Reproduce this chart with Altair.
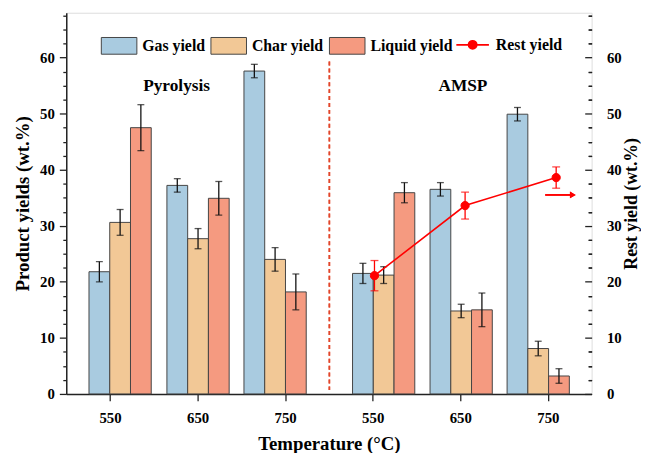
import json
import altair as alt
import pandas as pd

# ---------------- data ----------------
temps = ["550", "650", "750", "550", "650", "750"]
process = ["Pyrolysis", "Pyrolysis", "Pyrolysis", "AMSP", "AMSP", "AMSP"]
tick_pos = [0.5, 1.5, 2.5, 3.5, 4.5, 5.5]
group_pos = [0.615, 1.505, 2.385, 3.625, 4.51, 5.39]
series = ["Gas yield", "Char yield", "Liquid yield"]
colors = ["#a9cbe0", "#f2c896", "#f59a80"]

gas = [21.8, 37.2, 57.6, 21.5, 36.5, 49.9]
gas_err = [1.8, 1.2, 1.2, 1.8, 1.2, 1.2]
char = [30.6, 27.7, 24.0, 21.2, 14.8, 8.1]
char_err = [2.3, 1.8, 2.1, 1.5, 1.2, 1.3]
liquid = [47.5, 34.9, 18.2, 35.9, 15.0, 3.2]
liquid_err = [4.1, 3.0, 3.2, 1.8, 3.0, 1.3]

rest_name = ["Rest yield"]
rest_pos = [3.52, 4.555, 5.595]
rest = [21.1, 33.6, 38.6]
rest_err = [2.7, 2.4, 1.9]

annot_text = ["Pyrolysis", "AMSP"]
annot_x = [1.26, 4.53]
annot_y = [54.9, 54.9]

BW = 0.237
FONT = "Liberation Serif"

rows = []
for k, (name, vals, errs) in enumerate(zip(series, [gas, char, liquid], [gas_err, char_err, liquid_err])):
    for i in range(6):
        c = group_pos[i] + (k - 1) * BW
        rows.append(dict(series=name, process=process[i], temp=temps[i],
                         x0=c - BW / 2, x1=c + BW / 2, xc=c,
                         value=vals[i], lo=vals[i] - errs[i], hi=vals[i] + errs[i]))
bars_df = pd.DataFrame(rows)

rest_df = pd.DataFrame(dict(name=rest_name * 3, x=rest_pos, value=rest,
                            lo=[v - e for v, e in zip(rest, rest_err)],
                            hi=[v + e for v, e in zip(rest, rest_err)]))
annot_df = pd.DataFrame(dict(text=annot_text, x=annot_x, y=annot_y))

# ---------------- scales / axes ----------------
xscale = alt.Scale(domain=[0, 6], nice=False, zero=False)
yscale = alt.Scale(domain=[0, 68], nice=False, zero=True)

common = dict(labelFont=FONT, labelFontSize=15, labelFontWeight="bold", labelColor="black",
              titleFont=FONT, titleFontSize=19, titleFontWeight="bold", titleColor="black",
              grid=False, tickColor="#222", tickWidth=1.3, domainColor="#222", domainWidth=1.5)

xaxis = alt.Axis(values=tick_pos,
                 labelExpr=json.dumps(temps) + "[floor(datum.value)]",
                 title="Temperature (°C)", tickSize=7, labelPadding=10, titlePadding=9,
                 labelFlush=False, **common)

major = [0, 10, 20, 30, 40, 50, 60]
minor = [v / 2 for v in range(5, 136, 5) if (v / 2) % 10 != 0]

yaxis_left = alt.Axis(orient="left", values=major, tickSize=7, labelPadding=5,
                      title="Product yields (wt.%)", titlePadding=7, **common)
yaxis_left_minor = alt.Axis(orient="left", values=minor, tickSize=3.5, labels=False,
                            domain=False, title=None, grid=False, tickColor="#222", tickWidth=1.3)
right_common = dict(common)
right_common["titleFontSize"] = 18
yaxis_right = alt.Axis(orient="right", values=major, tickSize=7, offset=-7, labelPadding=15,
                       domain=False, title="Rest yield (wt.%)", titleAngle=270,
                       titleBaseline="top", titlePadding=1, **right_common)
yaxis_right_minor = alt.Axis(orient="right", values=minor, tickSize=3.5, offset=-3.5, labels=False,
                             domain=False, title=None, grid=False, tickColor="#222", tickWidth=1.3)

X = lambda f: alt.X(f, type="quantitative", scale=xscale, axis=xaxis)

# ---------------- group 1: bars ----------------
bars = alt.Chart(bars_df).mark_rect(stroke="#444", strokeWidth=1, opacity=1).encode(
    x=X("x0"),
    x2="x1",
    y=alt.Y("value", type="quantitative", scale=yscale, axis=yaxis_left),
    y2=alt.Y2(datum=0),
    fill=alt.Fill("series:N", scale=alt.Scale(domain=series, range=colors),
                  legend=alt.Legend(orient="none", legendX=35, legendY=15, direction="horizontal",
                                    title=None, symbolType="M-1,-0.47H1V0.47H-1Z", symbolSize=1296,
                                    symbolStrokeColor="#444", symbolStrokeWidth=1, symbolOpacity=1,
                                    labelFont=FONT, labelFontSize=16, labelFontWeight="bold",
                                    labelColor="black", labelOffset=5, columnPadding=3)),
)

errs = alt.Chart(bars_df).mark_errorbar(ticks=True, size=7, thickness=1.3, color="#111").encode(
    x=X("xc"),
    y=alt.Y("lo", type="quantitative", scale=yscale, axis=yaxis_left),
    y2="hi",
)

texts = alt.Chart(annot_df).mark_text(font=FONT, fontSize=17.5, fontWeight="bold", color="black").encode(
    x=X("x"),
    y=alt.Y("y", type="quantitative", scale=yscale, axis=yaxis_left),
    text="text",
)

left_group = alt.layer(bars, errs, texts)

# ---------------- group 2: rest yield ----------------
yR = lambda f: alt.Y(f, type="quantitative", scale=yscale, axis=yaxis_right)

rest_line = alt.Chart(rest_df).mark_line(color="#ff0000", strokeWidth=1.6).encode(
    x=X("x"), y=yR("value"))

rest_err_bars = alt.Chart(rest_df).mark_errorbar(ticks=True, size=8, thickness=1.3, color="#ff0000").encode(
    x=X("x"), y=yR("lo"), y2="hi")

rest_pts = alt.Chart(rest_df).mark_circle(size=70, stroke="#ff0000", strokeWidth=1, opacity=1).encode(
    x=X("x"), y=yR("value"),
    fill=alt.Fill("name:N", scale=alt.Scale(domain=rest_name, range=["#ff0000"]),
                  legend=alt.Legend(orient="none", legendX=394, legendY=15, title=None,
                                    symbolType="M-1,0H1M0.25,0A0.25,0.25,0,1,1,-0.25,0A0.25,0.25,0,1,1,0.25,0Z",
                                    symbolSize=1089, symbolStrokeColor="#ff0000", symbolStrokeWidth=1.8,
                                    symbolOpacity=1, labelFont=FONT, labelFontSize=16,
                                    labelFontWeight="bold", labelColor="black", labelOffset=6)),
)

right_group = alt.layer(rest_line, rest_err_bars, rest_pts)

# ---------------- group 3: divider, arrow, minor ticks ----------------
divider = alt.Chart(annot_df).mark_rule(color="#e2462a", strokeWidth=1.6, strokeDash=[4, 3]).encode(
    x=alt.X(datum=3.005, type="quantitative", scale=xscale, axis=xaxis),
    y=alt.Y(datum=59.3, type="quantitative", scale=yscale, axis=yaxis_left_minor),
    y2=alt.Y2(datum=0.7),
)
arrow_line = alt.Chart(annot_df).mark_rule(color="#ff0000", strokeWidth=1.6).encode(
    x=alt.X(datum=5.47, type="quantitative", scale=xscale, axis=xaxis),
    x2=alt.X2(datum=5.76),
    y=alt.Y(datum=35.5, type="quantitative", scale=yscale, axis=yaxis_right_minor),
)
arrow_head = alt.Chart(annot_df).mark_point(shape="triangle-right", filled=True, color="#ff0000",
                                           size=45, opacity=1).encode(
    x=alt.X(datum=5.785, type="quantitative", scale=xscale, axis=xaxis),
    y=alt.Y(datum=35.5, type="quantitative", scale=yscale, axis=yaxis_right_minor),
)
deco_group = alt.layer(divider, arrow_line, arrow_head)

chart = alt.layer(left_group, right_group, deco_group).resolve_scale(
    y="independent", fill="independent"
).properties(
    width=532, height=386,
    autosize=alt.AutoSizeParams(type="none"),
    padding={"left": 59, "top": 2, "right": 50, "bottom": 57},
).configure_view(stroke="#222", strokeWidth=1.5).configure(background="white")

chart.save("out.html", embed_options={"renderer": "svg", "actions": False})
